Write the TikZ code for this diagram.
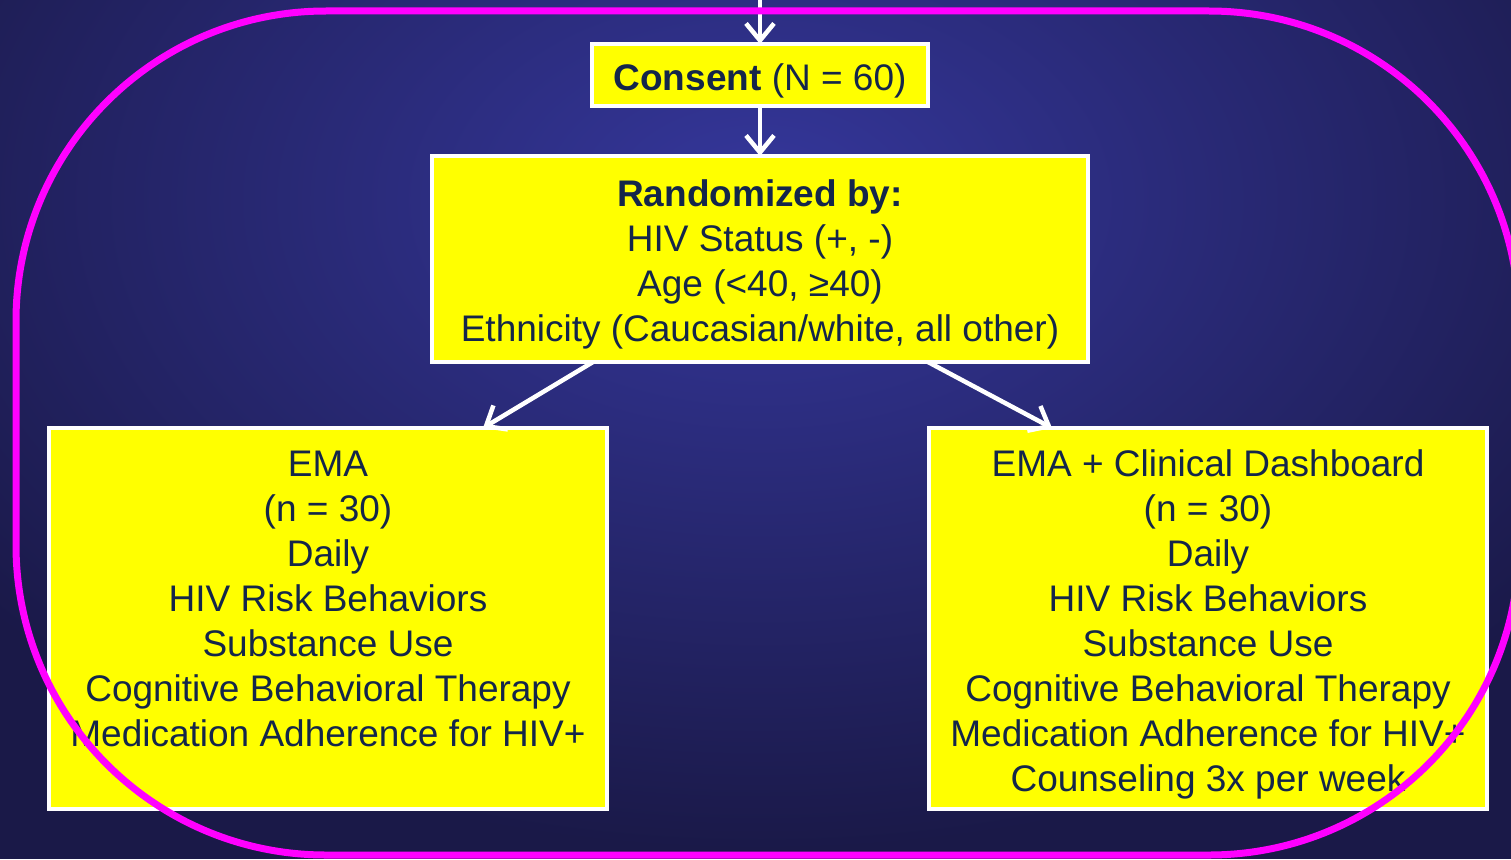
\documentclass[tikz,border=0pt]{standalone}
\usepackage{fontspec}
\setmainfont{Liberation Sans}
\usetikzlibrary{arrows.meta}
\definecolor{bgc}{HTML}{35379C}
\definecolor{bgd}{HTML}{1A1948}
\definecolor{txtc}{HTML}{14264A}
\definecolor{yel}{HTML}{FFFF00}
\definecolor{mag}{HTML}{FF00FF}
\pgfdeclareradialshading{bgshade}{\pgfpoint{0bp}{0bp}}{color(0bp)=(bgc); color(25bp)=(bgd); color(50bp)=(bgd)}
\newcommand\tstrut{\rule{0pt}{38pt}}
\newcommand\bstrut{\rule[-8pt]{0pt}{8pt}}
\tikzset{
  box/.style={draw=white, line width=4.5pt, fill=yel, inner sep=0pt, outer sep=0pt,
    text=txtc, align=center, font=\fontsize{37}{45}\selectfont},
  arr/.style={draw=white, line width=4.5pt, -{Straight Barb[length=17pt,width=28pt,line width=4.5pt]}},
  frame/.style={draw=mag, line width=7pt, rounded corners=310pt}
}
\begin{document}
\begin{tikzpicture}[x=1pt,y=-1pt]
\useasboundingbox (0,0) rectangle (1511,859);
\fill[bgd] (0,0) rectangle (1511,859);
\shade[shading=bgshade] (760,200) ellipse [x radius=1000pt, y radius=650pt];
\node[box, minimum width=336pt, minimum height=62pt] (consent) at (760,75)
  {\tstrut{\bfseries Consent} (N = 60)\bstrut};
\node[box, minimum width=656pt, minimum height=206pt] (rand) at (760,259)
  {\tstrut{\bfseries Randomized by:}\\HIV Status (+, -)\\Age (<40, ≥40)\\Ethnicity (Caucasian/white, all other)\bstrut};
\node[box, minimum width=558pt, minimum height=381pt] (ema) at (328,618.5)
  {\tstrut EMA\\(n = 30)\\Daily\\HIV Risk Behaviors\\Substance Use\\Cognitive Behavioral Therapy\\Medication Adherence for HIV+\\\mbox{}\bstrut};
\node[box, minimum width=558pt, minimum height=381pt] (dash) at (1208,618.5)
  {\tstrut EMA + Clinical Dashboard\\(n = 30)\\Daily\\HIV Risk Behaviors\\Substance Use\\Cognitive Behavioral Therapy\\Medication Adherence for HIV+\\Counseling 3x per week\bstrut};
\coordinate (top) at (760,-5);
\draw[arr] (top) -- (consent.north);
\draw[arr] (consent.south) -- (rand.north);
\draw[arr] ([xshift=-167pt]rand.south) -- ([xshift=155pt]ema.north);
\draw[arr] ([xshift=168pt]rand.south) -- ([xshift=-156pt]dash.north);
\draw[frame] (16,11) rectangle (1519,855);
\end{tikzpicture}
\end{document}
